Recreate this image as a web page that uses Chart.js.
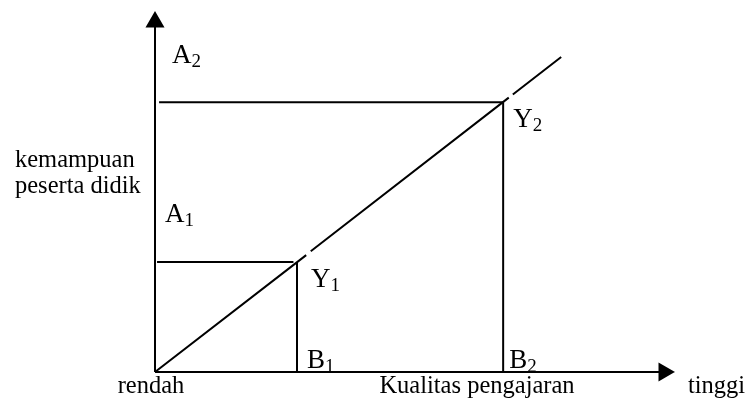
<!DOCTYPE html>
<html>
<head>
<meta charset="utf-8">
<script src="https://cdn.jsdelivr.net/npm/chart.js@4/dist/chart.umd.min.js"></script>
<style>
  html, body { margin: 0; padding: 0; background: #ffffff; }
  #wrap { width: 747px; height: 401px; position: relative; }
</style>
</head>
<body>
<div id="wrap"><canvas id="c"></canvas></div>
<script>
// Conceptual diagram values (axis units 0..10)
const axisMax = 10;
const B = [2.79, 6.84];          // Kualitas pengajaran points B1, B2
const A = [3.14, 7.71];          // kemampuan peserta didik levels A1, A2
const lineEnd = [7.98, 9.0];     // top end of the diagonal
// diagonal drawn in pieces (small breaks near Y1 and Y2 as in the picture)
const diagX = [0, 2.97, null, 3.06, 6.95, null, 7.03, 7.98];
const diagY = [0, 3.34, null, 3.45, 7.84, null, 7.93, 9.0];
const hStart = [0.04, 0.08];     // horizontal guide start (small gap to axis)
const hEnd = [2.72, 6.84];
const axisTitles = { y: ['kemampuan', 'peserta didik'], xLow: 'rendah', x: 'Kualitas pengajaran', xHigh: 'tinggi' };
const pointNames = { A: ['A', 'A'], Y: ['Y', 'Y'], B: ['B', 'B'], sub: ['1', '2'] };

const pts = (xs, ys) => xs.map((x, i) => (x === null ? { x: null, y: null } : { x: x, y: ys[i] }));
const lineStyle = { borderColor: '#000', backgroundColor: '#000', borderWidth: 2, pointRadius: 0, showLine: true, fill: false, clip: false, spanGaps: false, tension: 0 };

const datasets = [
  // y axis with arrow head
  Object.assign({}, lineStyle, { data: [{ x: 0, y: 0 }, { x: 0, y: axisMax }], pointRadius: [0, 9], pointStyle: 'triangle', rotation: 0 }),
  // x axis with arrow head
  Object.assign({}, lineStyle, { data: [{ x: 0, y: 0 }, { x: axisMax, y: 0 }], pointRadius: [0, 9], pointStyle: 'triangle', rotation: 90 }),
  // diagonal
  Object.assign({}, lineStyle, { data: pts(diagX, diagY) }),
  // horizontal guides
  Object.assign({}, lineStyle, { data: [{ x: hStart[0], y: A[0] }, { x: hEnd[0], y: A[0] }] }),
  Object.assign({}, lineStyle, { data: [{ x: hStart[1], y: A[1] }, { x: hEnd[1], y: A[1] }] }),
  // vertical guides
  Object.assign({}, lineStyle, { data: [{ x: B[0], y: 0 }, { x: B[0], y: A[0] }] }),
  Object.assign({}, lineStyle, { data: [{ x: B[1], y: 0 }, { x: B[1], y: A[1] }] })
];

const FONT = '"Liberation Serif", "Times New Roman", serif';

const textPlugin = {
  id: 'diagramText',
  afterDatasetsDraw(chart) {
    const ctx = chart.ctx;
    const xs = chart.scales.x, ys = chart.scales.y;
    const px = v => xs.getPixelForValue(v), py = v => ys.getPixelForValue(v);
    ctx.save();
    ctx.fillStyle = '#000';
    ctx.textBaseline = 'alphabetic';
    const label = (main, sub, x, y) => {
      ctx.font = '27px ' + FONT;
      ctx.textAlign = 'left';
      ctx.fillText(main, x, y);
      const w = ctx.measureText(main).width;
      ctx.font = '19px ' + FONT;
      ctx.fillText(sub, x + w, y + 4);
    };
    // A labels along the y axis
    label(pointNames.A[1], pointNames.sub[1], px(0) + 17, py(A[1]) - 39);
    label(pointNames.A[0], pointNames.sub[0], px(0) + 10, py(A[0]) - 40);
    // Y labels at the intersections
    label(pointNames.Y[0], pointNames.sub[0], px(B[0]) + 14, py(A[0]) + 25);
    label(pointNames.Y[1], pointNames.sub[1], px(B[1]) + 10, py(A[1]) + 25);
    // B labels on the x axis
    label(pointNames.B[0], pointNames.sub[0], px(B[0]) + 10, py(0) - 4);
    label(pointNames.B[1], pointNames.sub[1], px(B[1]) + 6, py(0) - 4);
    // axis texts
    ctx.font = '24.5px ' + FONT;
    ctx.textAlign = 'left';
    ctx.fillText(axisTitles.y[0], 15, 167);
    ctx.fillText(axisTitles.y[1], 15, 193);
    ctx.textAlign = 'center';
    ctx.fillText(axisTitles.xLow, px(0) - 4, py(0) + 21);
    ctx.fillText(axisTitles.x, 477, py(0) + 21);
    ctx.textAlign = 'left';
    ctx.fillText(axisTitles.xHigh, 688, py(0) + 21);
    ctx.restore();
  }
};

new Chart(document.getElementById('c'), {
  type: 'scatter',
  data: { datasets: datasets },
  options: {
    responsive: true,
    maintainAspectRatio: false,
    animation: false,
    events: [],
    layout: { padding: { left: 155, right: 83, top: 22, bottom: 29 } },
    plugins: { legend: { display: false }, tooltip: { enabled: false }, title: { display: false } },
    scales: {
      x: { type: 'linear', min: 0, max: axisMax, display: false },
      y: { type: 'linear', min: 0, max: axisMax, display: false }
    }
  },
  plugins: [textPlugin, {
    id: 'whiteBg',
    beforeDraw(chart) {
      const c = chart.ctx; c.save(); c.fillStyle = '#fff'; c.fillRect(0, 0, chart.width, chart.height); c.restore();
    }
  }]
});
</script>
</body>
</html>
